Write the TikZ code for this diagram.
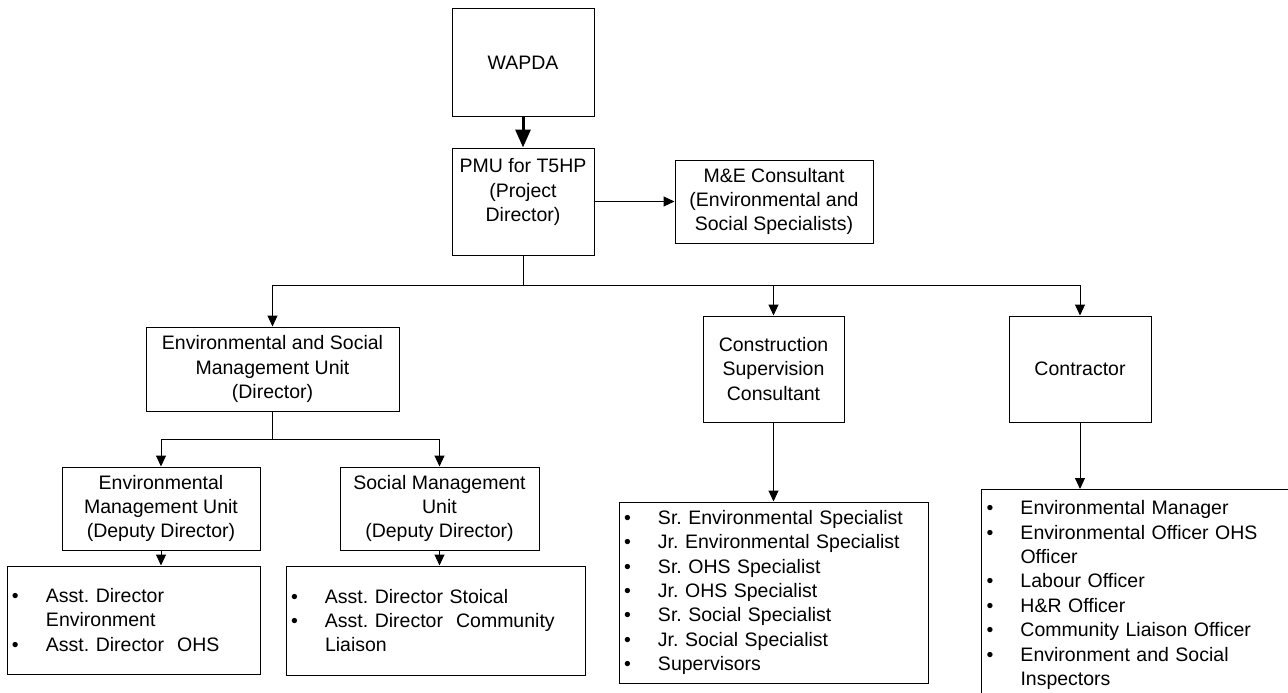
\documentclass[tikz,border=0pt]{standalone}
\usepackage{fontspec}
\setmainfont{Liberation Sans}
\usetikzlibrary{arrows.meta}
\frenchspacing
\newcommand{\bul}[1]{\makebox[34pt][l]{\textbullet}#1}
\newcommand{\cnt}[1]{\makebox[34pt][l]{}#1}
\tikzset{
  unit/.style={draw,line width=1pt,align=center,inner sep=0pt,font=\fontsize{19.5}{24.4}\selectfont},
  staff/.style={draw,line width=1pt,align=left,inner xsep=5pt,inner ysep=0pt,font=\fontsize{19.5}{24.4}\selectfont}
}
\begin{document}
\begin{tikzpicture}[x=1pt,y=-1pt,line width=1pt,>={Triangle[length=11pt,width=10pt]}]
\useasboundingbox (0,0) rectangle (1288,693);
\clip (0,0) rectangle (1288,693);
\node[unit,minimum width=142pt,minimum height=107pt] (wapda) at (523,62.5) {WAPDA};
\node[unit,minimum width=142pt,minimum height=107pt] (pmu) at (523,201.5) {PMU for T5HP\\(Project\\Director)\\[-2pt]\mbox{}};
\node[unit,minimum width=198pt,minimum height=83pt] (me) at (774,201.5) {M\&E Consultant\\(Environmental and\\Social Specialists)};
\coordinate (bus) at (0,285);
\node[unit,minimum width=253pt,minimum height=84pt] (esmu) at (272.5,369) {Environmental and Social\\Management Unit\\(Director)};
\node[unit,minimum width=141pt,minimum height=106pt] (csc) at (773.5,369) {Construction\\Supervision\\Consultant};
\node[unit,minimum width=142pt,minimum height=106pt] (con) at (1080,369) {Contractor};
\coordinate (subbus) at (0,439);
\node[unit,minimum width=198pt,minimum height=83pt] (emu) at (161,508.5) {Environmental\\Management Unit\\(Deputy Director)};
\node[unit,minimum width=199pt,minimum height=83pt] (smu) at (439.5,508.5) {Social Management\\Unit\\(Deputy Director)};
\node[staff,text width=243pt,minimum height=108pt] (emulist) at (133.5,620) {\bul{Asst. Director}\\\cnt{Environment}\\\bul{Asst. Director\ \ OHS}};
\node[staff,text width=289pt,minimum height=109pt] (smulist) at (435.5,620.5) {\bul{Asst. Director Stoical}\\\bul{Asst. Director\ \ Community}\\\cnt{Liaison}};
\node[staff,text width=299pt,minimum height=181pt] (csclist) at (773.5,592.5) {\bul{Sr. Environmental Specialist}\\\bul{Jr. Environmental Specialist}\\\bul{Sr. OHS Specialist}\\\bul{Jr. OHS Specialist}\\\bul{Sr. Social Specialist}\\\bul{Jr. Social Specialist}\\\bul{Supervisors}};
\node[staff,text width=300pt,inner ysep=11pt,anchor=north west] (conlist) at (981,489) {\bul{Environmental Manager}\\\bul{Environmental Officer OHS}\\\cnt{Officer}\\\bul{Labour Officer}\\\bul{H\&R Officer}\\\bul{Community Liaison Officer}\\\bul{Environment and Social}\\\cnt{Inspectors}};
\draw[line width=3pt,-{Triangle[length=18pt,width=15pt]}] (wapda) -- (pmu);
\draw[->] (pmu) -- (me);
\draw[->] (pmu.south) -- (pmu.south |- bus) -| (esmu.north);
\draw[->] (pmu.south |- bus) -| (csc.north);
\draw[->] (pmu.south |- bus) -| (con.north);
\draw[->] (esmu.south) -- (esmu.south |- subbus) -| (emu.north);
\draw[->] (esmu.south |- subbus) -| (smu.north);
\draw[->] (emu.south) -- (emu.south |- emulist.north);
\draw[->] (smu.south) -- (smu.south |- smulist.north);
\draw[->] (csc) -- (csclist);
\draw[->] (con.south) -- (con.south |- conlist.north);
\end{tikzpicture}
\end{document}
